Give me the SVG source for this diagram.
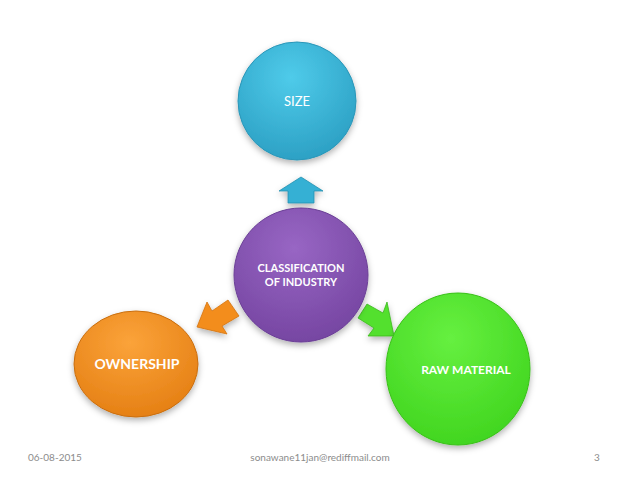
<svg xmlns="http://www.w3.org/2000/svg" width="638" height="479" viewBox="0 0 638 479">
<defs>
<radialGradient id="gBlue" cx="0.45" cy="0.3" r="0.75"><stop offset="0" stop-color="#4fcbea"/><stop offset="1" stop-color="#2a9ec2"/></radialGradient>
<radialGradient id="gPurple" cx="0.45" cy="0.3" r="0.75"><stop offset="0" stop-color="#9866c4"/><stop offset="1" stop-color="#7444a0"/></radialGradient>
<radialGradient id="gOrange" cx="0.45" cy="0.3" r="0.75"><stop offset="0" stop-color="#fba33a"/><stop offset="1" stop-color="#e47e12"/></radialGradient>
<radialGradient id="gGreen" cx="0.45" cy="0.3" r="0.75"><stop offset="0" stop-color="#66f040"/><stop offset="1" stop-color="#3fd41e"/></radialGradient>
<filter id="sh" x="-20%" y="-20%" width="140%" height="150%"><feDropShadow dx="0" dy="3" stdDeviation="3" flood-color="#000" flood-opacity="0.3"/></filter>
</defs>
<style>
.lbl{font-family:Lato,"Open Sans","Liberation Sans",sans-serif;fill:#fff;text-anchor:middle}
.b{font-weight:bold}
.ft{font-family:Lato,"Open Sans","Liberation Sans",sans-serif;fill:#8c8c8c;font-size:10px}
.arr{stroke-width:0.8;filter:url(#sh)}
</style>
<rect width="638" height="479" fill="#fff"/>
<g id="connectors">
<path class="arr" d="M301,177 L323,191 L314,191 L314,203 L288,203 L288,191 L279,191 Z" fill="#34b0d4" stroke="#2590b0"/>
<path class="arr" d="M197,327 L207,302 L212,311 L228,300 L239,316 L222,326 L227,334 Z" fill="#f38d1e" stroke="#d37410"/>
<path class="arr" d="M394,336 L368,336 L374,328 L358,318 L367,304 L383,313 L387,302 Z" fill="#52e02e" stroke="#3cb81e"/>
</g>
<g id="size"><circle cx="297" cy="101" r="59" fill="url(#gBlue)" stroke="#2a96b8" stroke-width="1" filter="url(#sh)"/><text class="lbl" x="297" y="106" font-size="13" fill="#e8f8ff">SIZE</text></g>
<g id="classification"><circle cx="301" cy="275" r="67" fill="url(#gPurple)" stroke="#6b3f96" stroke-width="1" filter="url(#sh)"/><text class="lbl b" x="301" y="272" font-size="11">CLASSIFICATION</text><text class="lbl b" x="301" y="286" font-size="11">OF INDUSTRY</text></g>
<g id="ownership"><ellipse cx="136" cy="364" rx="62" ry="53" fill="url(#gOrange)" stroke="#c96e10" stroke-width="1" filter="url(#sh)"/><text class="lbl b" x="137" y="369" font-size="14">OWNERSHIP</text></g>
<g id="raw"><ellipse cx="458" cy="369" rx="72" ry="76" fill="url(#gGreen)" stroke="#38c018" stroke-width="1" filter="url(#sh)"/><text class="lbl b" x="466" y="374" font-size="12">RAW MATERIAL</text></g>
<text class="ft" x="28" y="461">06-08-2015</text>
<text class="ft" x="320" y="461" text-anchor="middle">sonawane11jan@rediffmail.com</text>
<text class="ft" x="594" y="461">3</text>
</svg>
